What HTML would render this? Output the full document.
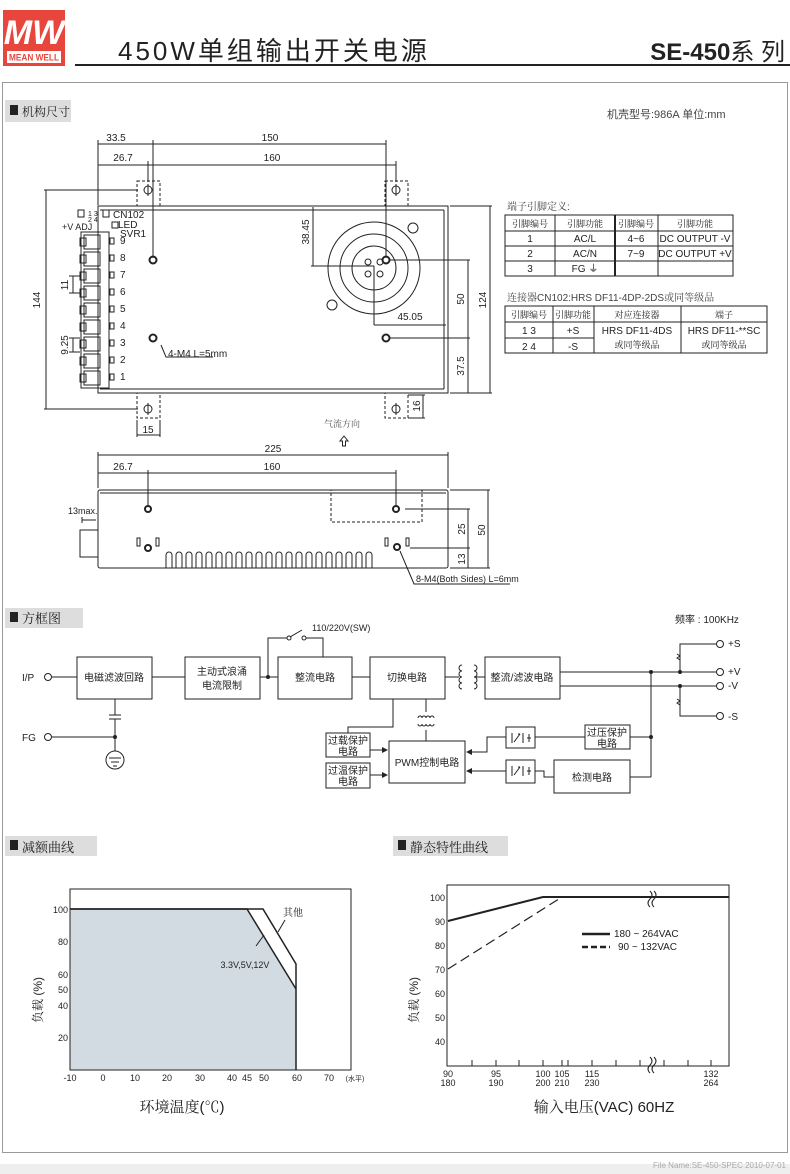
<!DOCTYPE html>
<html><head><meta charset="utf-8"><style>
html,body{margin:0;padding:0;background:#fff}
svg{display:block}
text{font-family:"Liberation Sans","Noto Sans CJK SC",sans-serif;fill:#222}
.d{font-size:10px}
.cn{font-family:"Liberation Sans","Noto Serif CJK SC","Noto Sans CJK SC",serif}
</style></head><body>
<svg width="790" height="1174" viewBox="0 0 790 1174" xmlns="http://www.w3.org/2000/svg">
<defs>
<marker id="ar" markerWidth="6" markerHeight="6" refX="5" refY="3" orient="auto"><path d="M0,0L6,3L0,6z" fill="#222"/></marker>
</defs>
<!-- header -->
<rect x="3" y="10" width="62" height="56" fill="#e8463c"/>
<text x="34" y="44" font-size="34" font-style="italic" font-weight="bold" text-anchor="middle" style="fill:#fff">MW</text>
<rect x="7" y="51" width="54" height="12" fill="#fff"/>
<text x="9" y="60.5" font-size="9" font-weight="bold" textLength="50" lengthAdjust="spacingAndGlyphs" style="fill:#e8463c">MEAN WELL</text>
<text x="118" y="60" font-size="26" letter-spacing="3">450W单组输出开关电源</text>
<text x="785" y="60" font-size="24" text-anchor="end"><tspan font-weight="bold">SE-450</tspan>系 列</text>
<line x1="75" y1="65" x2="790" y2="65" stroke="#222" stroke-width="2"/>
<!-- frame -->
<rect x="2.5" y="82.5" width="785" height="1070" fill="none" stroke="#999"/>
<rect x="0" y="1164" width="790" height="10" fill="#eee"/>
<text x="786" y="1168" font-size="8" text-anchor="end" style="fill:#aaa">File Name:SE-450-SPEC  2010-07-01</text>
<!-- section headers -->
<rect x="5" y="100" width="66" height="22" fill="#ddd"/>
<rect x="10" y="105" width="8" height="10" fill="#222"/><text x="22" y="116" font-size="12" class="cn">机构尺寸</text>
<text x="607" y="118" font-size="11" style="fill:#444">机壳型号:986A   单位:mm</text>
<rect x="5" y="608" width="78" height="20" fill="#ddd"/>
<rect x="10" y="612" width="8" height="10" fill="#222"/><text x="22" y="623" font-size="13" class="cn">方框图</text>
<rect x="5" y="836" width="92" height="20" fill="#ddd"/>
<rect x="10" y="840" width="8" height="10" fill="#222"/><text x="22" y="852" font-size="13" class="cn">减额曲线</text>
<rect x="393" y="836" width="115" height="20" fill="#ddd"/>
<rect x="398" y="840" width="8" height="10" fill="#222"/><text x="410" y="852" font-size="13" class="cn">静态特性曲线</text>

<!-- top view -->
<g stroke="#222" fill="none" stroke-width="1">
<rect x="98" y="206" width="350" height="187"/>
<line x1="100" y1="210" x2="444" y2="210"/><line x1="444" y1="210" x2="444" y2="389"/><line x1="100" y1="389" x2="444" y2="389"/>
<g stroke-dasharray="3,2">
<rect x="137" y="181" width="23" height="25"/><rect x="385" y="181" width="23" height="25"/>
<rect x="137" y="393" width="23" height="25"/><rect x="385" y="393" width="23" height="25"/>
</g>
<circle cx="148" cy="190" r="4"/><line x1="148" y1="184" x2="148" y2="196"/>
<circle cx="396" cy="190" r="4"/><line x1="396" y1="184" x2="396" y2="196"/>
<circle cx="148" cy="409" r="4"/><line x1="148" y1="403" x2="148" y2="415"/>
<circle cx="396" cy="409" r="4"/><line x1="396" y1="403" x2="396" y2="415"/>
<!-- terminal block -->
<rect x="81" y="232" width="28" height="156"/>
<g id="tb">
<rect x="84" y="235" width="16" height="14"/><rect x="80" y="238" width="6" height="8"/><rect x="110" y="238" width="4" height="6"/>
</g>
<use href="#tb" y="17"/><use href="#tb" y="34"/><use href="#tb" y="51"/><use href="#tb" y="68"/><use href="#tb" y="85"/><use href="#tb" y="102"/><use href="#tb" y="119"/><use href="#tb" y="136"/>
<rect x="78" y="210" width="6" height="7"/><rect x="103" y="210" width="6" height="7"/><rect x="112" y="222" width="6" height="6"/>
<!-- holes -->
<circle cx="153" cy="260" r="3.5" stroke-width="2"/><circle cx="386" cy="260" r="3.5" stroke-width="2"/>
<circle cx="153" cy="338" r="3.5" stroke-width="2"/><circle cx="386" cy="338" r="3.5" stroke-width="2"/>
<!-- fan -->
<circle cx="374" cy="268" r="46"/><circle cx="374" cy="268" r="34"/><circle cx="374" cy="268" r="22"/>
<circle cx="368" cy="262" r="3"/><circle cx="380" cy="262" r="3"/><circle cx="368" cy="274" r="3"/><circle cx="380" cy="274" r="3"/>
<circle cx="413" cy="228" r="5"/><circle cx="332" cy="305" r="5"/>
<!-- dimensions -->
<line x1="98" y1="144" x2="386" y2="144"/><line x1="98" y1="140" x2="98" y2="205"/><line x1="153" y1="140" x2="153" y2="258"/><line x1="386" y1="140" x2="386" y2="258"/>
<line x1="98" y1="165" x2="396" y2="165"/><line x1="148" y1="161" x2="148" y2="182"/><line x1="396" y1="161" x2="396" y2="182"/>
<line x1="46" y1="190" x2="46" y2="409"/><line x1="44" y1="190" x2="138" y2="190"/><line x1="44" y1="409" x2="138" y2="409"/>
<line x1="490" y1="206" x2="490" y2="393"/><line x1="450" y1="206" x2="492" y2="206"/><line x1="450" y1="393" x2="492" y2="393"/>
<line x1="468" y1="260" x2="468" y2="393"/><line x1="390" y1="260" x2="470" y2="260"/><line x1="390" y1="338" x2="470" y2="338"/>
<line x1="313" y1="207" x2="313" y2="266"/><line x1="311" y1="266" x2="374" y2="266"/>
<line x1="374" y1="266" x2="374" y2="325"/><line x1="374" y1="325" x2="446" y2="325"/>
<line x1="408" y1="395" x2="425" y2="395"/><line x1="408" y1="418" x2="425" y2="418"/><line x1="423" y1="395" x2="423" y2="418"/>
<line x1="137" y1="420" x2="137" y2="437"/><line x1="160" y1="420" x2="160" y2="437"/><line x1="137" y1="435" x2="160" y2="435"/>
<line x1="73" y1="276" x2="73" y2="293"/><line x1="69" y1="276" x2="80" y2="276"/><line x1="69" y1="293" x2="80" y2="293"/>
<line x1="73" y1="338" x2="73" y2="352"/><line x1="69" y1="338" x2="80" y2="338"/><line x1="69" y1="352" x2="80" y2="352"/>
<polyline points="161,345 166,357 213,357"/>
</g>
<g class="d">
<text x="116" y="141" text-anchor="middle">33.5</text><text x="270" y="141" text-anchor="middle">150</text>
<text x="123" y="161" text-anchor="middle">26.7</text><text x="272" y="161" text-anchor="middle">160</text>
<text x="410" y="320" text-anchor="middle">45.05</text>
<text transform="translate(40,300) rotate(-90)" text-anchor="middle">144</text>
<text transform="translate(486,300) rotate(-90)" text-anchor="middle">124</text>
<text transform="translate(464,299) rotate(-90)" text-anchor="middle">50</text>
<text transform="translate(464,366) rotate(-90)" text-anchor="middle">37.5</text>
<text transform="translate(309,232) rotate(-90)" text-anchor="middle">38.45</text>
<text transform="translate(420,406) rotate(-90)" text-anchor="middle">16</text>
<text transform="translate(68,285) rotate(-90)" text-anchor="middle">11</text>
<text transform="translate(68,345) rotate(-90)" text-anchor="middle">9.25</text>
<text x="148" y="433" text-anchor="middle">15</text>
<text x="168" y="357">4-M4 L=5mm</text>
<text x="113" y="218">CN102</text><text x="118" y="228">LED</text><text x="120" y="237">SVR1</text>
<text x="62" y="230" font-size="9">+V ADJ</text><text x="88" y="216" font-size="7">1 3</text><text x="88" y="222" font-size="7">2 4</text>
<text x="120" y="244">9</text><text x="120" y="261">8</text><text x="120" y="278">7</text><text x="120" y="295">6</text><text x="120" y="312">5</text><text x="120" y="329">4</text><text x="120" y="346">3</text><text x="120" y="363">2</text><text x="120" y="380">1</text>
<text x="342" y="427" font-size="9" class="cn" text-anchor="middle" style="fill:#555">气流方向</text>
</g>
<path d="M344,436 l-4,5 h2.5 v5 h3 v-5 h2.5z" fill="none" stroke="#222"/>

<!-- side view -->
<g stroke="#222" fill="none">
<rect x="98" y="490" width="350" height="78" rx="2"/>
<line x1="100" y1="493" x2="446" y2="493"/>
<rect x="80" y="530" width="18" height="27"/>
<line x1="98" y1="455" x2="448" y2="455"/><line x1="98" y1="452" x2="98" y2="488"/><line x1="448" y1="452" x2="448" y2="488"/>
<line x1="98" y1="473" x2="396" y2="473"/><line x1="148" y1="470" x2="148" y2="505"/><line x1="396" y1="470" x2="396" y2="505"/>
<rect x="331" y="490" width="91" height="32" stroke-dasharray="3,2"/>
<circle cx="148" cy="509" r="3" stroke-width="2"/><circle cx="396" cy="509" r="3" stroke-width="2"/>
<circle cx="148" cy="548" r="3" stroke-width="2"/><circle cx="397" cy="547" r="3" stroke-width="2"/>
<rect x="137" y="538" width="3" height="8"/><rect x="156" y="538" width="3" height="8"/>
<rect x="385" y="538" width="3" height="8"/><rect x="406" y="538" width="3" height="8"/>
<line x1="450" y1="490" x2="490" y2="490"/><line x1="450" y1="568" x2="490" y2="568"/><line x1="488" y1="490" x2="488" y2="568"/>
<line x1="405" y1="509" x2="470" y2="509"/><line x1="410" y1="548" x2="470" y2="548"/><line x1="468" y1="509" x2="468" y2="568"/>
<polyline points="400,551 414,584 510,584"/>
<line x1="82" y1="517" x2="82" y2="523"/><line x1="82" y1="520" x2="96" y2="520"/>
<path d="M166,568 v-13 a3,3 0 0 1 6,0 v13 M176,568 v-13 a3,3 0 0 1 6,0 v13 M186,568 v-13 a3,3 0 0 1 6,0 v13 M196,568 v-13 a3,3 0 0 1 6,0 v13 M206,568 v-13 a3,3 0 0 1 6,0 v13 M216,568 v-13 a3,3 0 0 1 6,0 v13 M226,568 v-13 a3,3 0 0 1 6,0 v13 M236,568 v-13 a3,3 0 0 1 6,0 v13 M246,568 v-13 a3,3 0 0 1 6,0 v13 M256,568 v-13 a3,3 0 0 1 6,0 v13 M266,568 v-13 a3,3 0 0 1 6,0 v13 M276,568 v-13 a3,3 0 0 1 6,0 v13 M286,568 v-13 a3,3 0 0 1 6,0 v13 M296,568 v-13 a3,3 0 0 1 6,0 v13 M306,568 v-13 a3,3 0 0 1 6,0 v13 M316,568 v-13 a3,3 0 0 1 6,0 v13 M326,568 v-13 a3,3 0 0 1 6,0 v13 M336,568 v-13 a3,3 0 0 1 6,0 v13 M346,568 v-13 a3,3 0 0 1 6,0 v13 M356,568 v-13 a3,3 0 0 1 6,0 v13 M366,568 v-13 a3,3 0 0 1 6,0 v13"/>
</g>
<g class="d">
<text x="273" y="452" text-anchor="middle">225</text>
<text x="123" y="470" text-anchor="middle">26.7</text><text x="272" y="470" text-anchor="middle">160</text>
<text x="68" y="514" font-size="9">13max.</text>
<text transform="translate(485,530) rotate(-90)" text-anchor="middle">50</text>
<text transform="translate(465,529) rotate(-90)" text-anchor="middle">25</text>
<text transform="translate(465,559) rotate(-90)" text-anchor="middle">13</text>
<text x="416" y="582" font-size="9">8-M4(Both Sides) L=6mm</text>
</g>

<!-- tables -->
<g font-size="10">
<text x="507" y="210" class="cn" style="fill:#444">端子引脚定义:</text>
<g stroke="#222" fill="none">
<rect x="505" y="215" width="228" height="61"/>
<line x1="505" y1="231" x2="733" y2="231"/><line x1="505" y1="246" x2="733" y2="246"/><line x1="505" y1="261" x2="733" y2="261"/>
<line x1="555" y1="215" x2="555" y2="276"/><line x1="615" y1="215" x2="615" y2="276" stroke-width="2"/><line x1="658" y1="215" x2="658" y2="276"/>
</g>
<g text-anchor="middle">
<text x="530" y="227" class="cn" font-size="9">引脚编号</text><text x="585" y="227" class="cn" font-size="9">引脚功能</text><text x="636" y="227" class="cn" font-size="9">引脚编号</text><text x="695" y="227" class="cn" font-size="9">引脚功能</text>
<text x="530" y="242">1</text><text x="585" y="242">AC/L</text><text x="636" y="242">4~6</text><text x="695" y="242">DC OUTPUT -V</text>
<text x="530" y="257">2</text><text x="585" y="257">AC/N</text><text x="636" y="257">7~9</text><text x="695" y="257">DC OUTPUT +V</text>
<text x="530" y="272">3</text><text x="585" y="272">FG ⏚</text>
</g>
<text x="507" y="301" class="cn" style="fill:#444">连接器CN102:HRS DF11-4DP-2DS或同等级品</text>
<g stroke="#222" fill="none">
<rect x="505" y="306" width="262" height="47"/>
<line x1="505" y1="322" x2="767" y2="322"/><line x1="505" y1="338" x2="594" y2="338"/>
<line x1="553" y1="306" x2="553" y2="353"/><line x1="594" y1="306" x2="594" y2="353"/><line x1="681" y1="306" x2="681" y2="353"/>
</g>
<g text-anchor="middle">
<text x="529" y="318" class="cn" font-size="9">引脚编号</text><text x="573" y="318" class="cn" font-size="9">引脚功能</text><text x="637" y="318" class="cn" font-size="9">对应连接器</text><text x="724" y="318" class="cn" font-size="9">端子</text>
<text x="529" y="334">1  3</text><text x="573" y="334">+S</text><text x="529" y="350">2  4</text><text x="573" y="350">-S</text>
<text x="637" y="334">HRS DF11-4DS</text><text x="637" y="348" class="cn" font-size="9">或同等级品</text>
<text x="724" y="334">HRS DF11-**SC</text><text x="724" y="348" class="cn" font-size="9">或同等级品</text>
</g>
</g>

<!-- block diagram -->
<text x="675" y="623" font-size="10">频率 : 100KHz</text>
<text x="312" y="631" font-size="9">110/220V(SW)</text>
<g stroke="#222" fill="none">
<rect x="77" y="657" width="75" height="42"/><rect x="185" y="657" width="75" height="42"/><rect x="278" y="657" width="74" height="42"/><rect x="370" y="657" width="75" height="42"/><rect x="485" y="657" width="75" height="42"/>
<circle cx="48" cy="677" r="3.5"/><line x1="52" y1="677" x2="77" y2="677"/>
<line x1="152" y1="677" x2="185" y2="677"/><line x1="260" y1="677" x2="278" y2="677"/><line x1="352" y1="677" x2="370" y2="677"/>
<polyline points="268,677 268,638 287,638"/><circle cx="289" cy="638" r="2"/><circle cx="304" cy="638" r="2"/><line x1="290" y1="637" x2="302" y2="630"/><polyline points="306,638 323,638 323,657"/>
<line x1="445" y1="677" x2="459" y2="677"/><line x1="476" y1="677" x2="485" y2="677"/>
<path d="M462,665 a3,3 0 0 0 0,6 a3,3 0 0 0 0,6 a3,3 0 0 0 0,6 a3,3 0 0 0 0,6 M474,665 a3,3 0 0 1 0,6 a3,3 0 0 1 0,6 a3,3 0 0 1 0,6 a3,3 0 0 1 0,6"/>
<line x1="560" y1="672" x2="716" y2="672"/><line x1="560" y1="686" x2="716" y2="686"/>
<polyline points="716,644 680,644 680,672"/><polyline points="716,716 680,716 680,686"/>
<path d="M677,654 l3,2 l-3,2 l3,2"/><path d="M677,699 l3,2 l-3,2 l3,2"/>
<circle cx="720" cy="644" r="3.5"/><circle cx="720" cy="672" r="3.5"/><circle cx="720" cy="686" r="3.5"/><circle cx="720" cy="716" r="3.5"/>
<line x1="651" y1="672" x2="651" y2="777"/>
<line x1="115" y1="699" x2="115" y2="715"/><line x1="109" y1="715" x2="121" y2="715"/><line x1="109" y1="719" x2="121" y2="719"/><line x1="115" y1="719" x2="115" y2="751"/>
<circle cx="48" cy="737" r="3.5"/><line x1="52" y1="737" x2="115" y2="737"/>
<circle cx="115" cy="760" r="9"/><line x1="109" y1="758" x2="121" y2="758"/><line x1="111" y1="762" x2="119" y2="762"/><line x1="113" y1="766" x2="117" y2="766"/>
<rect x="326" y="733" width="44" height="24"/><rect x="326" y="763" width="44" height="25"/>
<rect x="389" y="741" width="76" height="42"/>
<rect x="506" y="727" width="29" height="21"/><rect x="506" y="760" width="29" height="23"/>
<rect x="585" y="725" width="45" height="24"/><rect x="554" y="760" width="76" height="33"/>
<polyline points="393,699 393,727 348,727 348,733"/>
<line x1="426" y1="699" x2="426" y2="712"/><line x1="426" y1="730" x2="426" y2="741"/>
<path d="M418,718 a2,2 0 0 1 4,0 a2,2 0 0 1 4,0 a2,2 0 0 1 4,0 a2,2 0 0 1 4,0 M418,724 a2,2 0 0 0 4,0 a2,2 0 0 0 4,0 a2,2 0 0 0 4,0 a2,2 0 0 0 4,0"/>
<line x1="370" y1="750" x2="387" y2="750" marker-end="url(#ar)"/><line x1="370" y1="775" x2="387" y2="775" marker-end="url(#ar)"/>
<polyline points="506,737 487,737 487,752 467,752" marker-end="url(#ar)"/>
<polyline points="506,771 467,771" marker-end="url(#ar)"/>
<line x1="535" y1="737" x2="585" y2="737"/><line x1="630" y1="737" x2="651" y2="737"/>
<polyline points="535,771 544,771 544,777 554,777"/><line x1="630" y1="777" x2="651" y2="777"/>
<path d="M512,733 v10 M514,742 l6,-8 M520,734 l-2,0 M523,733 v10 M527,738 h4 M529,734 v8"/>
<path d="M512,766 v10 M514,775 l6,-8 M520,767 l-2,0 M523,766 v10 M527,771 h4 M529,767 v8"/>
</g>
<g fill="#222"><circle cx="268" cy="677" r="2"/><circle cx="651" cy="672" r="2"/><circle cx="680" cy="672" r="2"/><circle cx="680" cy="686" r="2"/><circle cx="651" cy="737" r="2"/><circle cx="115" cy="737" r="2"/></g>
<g font-size="10" class="cn" text-anchor="middle">
<text x="114" y="681">电磁滤波回路</text><text x="222" y="675">主动式浪涌</text><text x="222" y="689">电流限制</text>
<text x="315" y="681">整流电路</text><text x="407" y="681">切换电路</text><text x="522" y="681">整流/滤波电路</text>
<text x="348" y="744">过载保护</text><text x="348" y="755">电路</text><text x="348" y="774">过温保护</text><text x="348" y="785">电路</text>
<text x="427" y="766">PWM控制电路</text><text x="607" y="736">过压保护</text><text x="607" y="747">电路</text><text x="592" y="781">检测电路</text>
</g>
<g font-size="10"><text x="22" y="681">I/P</text><text x="22" y="741">FG</text><text x="728" y="647">+S</text><text x="728" y="675">+V</text><text x="728" y="689">-V</text><text x="728" y="720">-S</text></g>

<!-- derating chart -->
<polygon points="70,909 247,909 296,989 296,1070 70,1070" fill="#d3dbe2"/>
<g stroke="#222" fill="none">
<rect x="70" y="889" width="281" height="181"/>
<polyline points="70,909 263,909 296,964 296,1070" stroke-width="1.5"/>
<polyline points="70,909 247,909 296,989" stroke-width="1.5"/>
<line x1="278" y1="932" x2="285" y2="920"/><line x1="256" y1="946" x2="264" y2="935"/>
</g>
<g font-size="9" text-anchor="end">
<text x="68" y="913">100</text><text x="68" y="945">80</text><text x="68" y="978">60</text><text x="68" y="993">50</text><text x="68" y="1009">40</text><text x="68" y="1041">20</text>
</g>
<g font-size="9" text-anchor="middle">
<text x="70" y="1081">-10</text><text x="103" y="1081">0</text><text x="135" y="1081">10</text><text x="167" y="1081">20</text><text x="200" y="1081">30</text><text x="232" y="1081">40</text><text x="247" y="1081">45</text><text x="264" y="1081">50</text><text x="297" y="1081">60</text><text x="329" y="1081">70</text>
<text x="355" y="1081" font-size="7">(水平)</text>
</g>
<text x="293" y="916" font-size="10" class="cn" text-anchor="middle">其他</text>
<text x="245" y="968" font-size="9" text-anchor="middle">3.3V,5V,12V</text>
<text transform="translate(42,1000) rotate(-90)" font-size="12" class="cn" text-anchor="middle">负载 (%)</text>
<text x="182" y="1112" font-size="15" class="cn" text-anchor="middle">环境温度(℃)</text>

<!-- static chart -->
<g stroke="#222" fill="none">
<rect x="447" y="885" width="282" height="181"/>
<polyline points="448,921 543,897 729,897" stroke-width="2"/>
<polyline points="448,969 562,897" stroke-width="1.2" stroke-dasharray="10,5"/>
<line x1="582" y1="934" x2="610" y2="934" stroke-width="2.5"/>
<line x1="582" y1="947" x2="610" y2="947" stroke-width="2.5" stroke-dasharray="6,3"/>
<path d="M650,891 q4,4 0,8 q-4,4 0,8 M654,891 q4,4 0,8 q-4,4 0,8 M650,1057 q4,4 0,8 q-4,4 0,8 M654,1057 q4,4 0,8 q-4,4 0,8"/>
<path d="M472,1066 v-6 M496,1066 v-6 M519,1066 v-6 M543,1066 v-6 M562,1066 v-6 M568,1066 v-6 M592,1066 v-6 M616,1066 v-6 M640,1066 v-6 M664,1066 v-6 M688,1066 v-6 M711,1066 v-6"/>
</g>
<g font-size="9" text-anchor="end">
<text x="445" y="901">100</text><text x="445" y="925">90</text><text x="445" y="949">80</text><text x="445" y="973">70</text><text x="445" y="997">60</text><text x="445" y="1021">50</text><text x="445" y="1045">40</text>
</g>
<g font-size="9" text-anchor="middle">
<text x="448" y="1077">90</text><text x="448" y="1086">180</text><text x="496" y="1077">95</text><text x="496" y="1086">190</text>
<text x="543" y="1077">100</text><text x="543" y="1086">200</text><text x="562" y="1077">105</text><text x="562" y="1086">210</text>
<text x="592" y="1077">115</text><text x="592" y="1086">230</text><text x="711" y="1077">132</text><text x="711" y="1086">264</text>
</g>
<text x="614" y="937" font-size="10">180 ~ 264VAC</text><text x="618" y="950" font-size="10">90 ~ 132VAC</text>
<text transform="translate(418,1000) rotate(-90)" font-size="12" class="cn" text-anchor="middle">负载 (%)</text>
<text x="604" y="1112" font-size="15" class="cn" text-anchor="middle">输入电压(VAC) 60HZ</text>
</svg>
</body></html>
